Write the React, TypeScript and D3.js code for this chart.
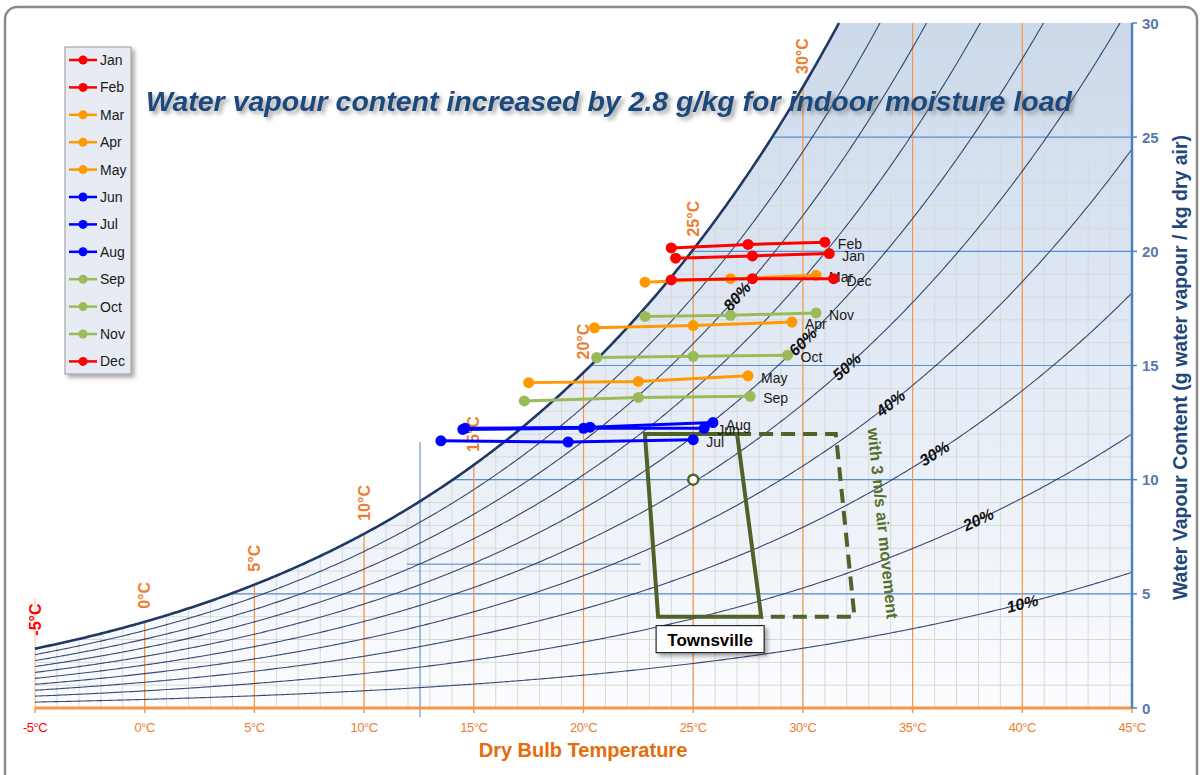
import React from 'react';
import * as d3 from 'd3';

const W = 1203;
const H = 775;

// ---------- data ----------
const months = ['Jan', 'Feb', 'Mar', 'Apr', 'May', 'Jun', 'Jul', 'Aug', 'Sep', 'Oct', 'Nov', 'Dec'];
const monthColors = ['#ff0000', '#ff0000', '#ff9900', '#ff9900', '#ff9900', '#0000ff', '#0000ff', '#0000ff', '#9bbb59', '#9bbb59', '#9bbb59', '#ff0000'];
// dry bulb temperatures (°C): low, mean, high
const monthTemps = [
  [24.2, 27.7, 31.2],
  [24.0, 27.5, 31.0],
  [22.8, 26.7, 30.6],
  [20.5, 25.0, 29.5],
  [17.5, 22.5, 27.5],
  [14.5, 20.0, 25.5],
  [13.5, 19.3, 25.0],
  [14.6, 20.3, 25.9],
  [17.3, 22.5, 27.6],
  [20.6, 25.0, 29.3],
  [22.8, 26.7, 30.6],
  [24.0, 27.7, 31.4],
];
// water vapour content (g/kg) at those points
const monthMoisture = [
  [19.7, 19.8, 19.9],
  [20.15, 20.3, 20.4],
  [18.65, 18.8, 18.95],
  [16.65, 16.75, 16.9],
  [14.25, 14.3, 14.55],
  [12.2, 12.25, 12.25],
  [11.7, 11.65, 11.75],
  [12.25, 12.3, 12.5],
  [13.45, 13.6, 13.65],
  [15.35, 15.4, 15.45],
  [17.15, 17.2, 17.3],
  [18.75, 18.8, 18.8],
];

const xTicks = [-5, 0, 5, 10, 15, 20, 25, 30, 35, 40, 45];
const yTicks = [0, 5, 10, 15, 20, 25, 30];
const rhLevels = [0.1, 0.2, 0.3, 0.4, 0.5, 0.6, 0.7, 0.8, 0.9];
const rhLabelLevels = [0.1, 0.2, 0.3, 0.4, 0.5, 0.6, 0.8];
const rhLabelTemps = [40, 38, 36, 34, 32, 30, 27];

// comfort zone (T, w)
const zoneSolid = [[22.8, 12], [27.0, 12], [28.1, 4], [23.4, 4]];
const zoneDashed = [[27.0, 12], [31.5, 12], [32.35, 4], [28.1, 4]];
const zoneCentre = [25, 10];
// cursor cross-hair remnants (T, w)
const cursorV = [[12.55, 11.65], [12.55, -0.4]];
const cursorH = [[11.95, 6.3], [22.6, 6.3]];

const title = 'Water vapour content increased by 2.8 g/kg for indoor moisture load';

// ---------- psychrometrics ----------
const P = 101.325;
const pws = (T: number) => 0.61121 * Math.exp((18.678 - T / 234.5) * (T / (257.14 + T)));
const wAt = (T: number, rh: number) => {
  const p = rh * pws(T);
  return (621.98 * p) / (P - p);
};
const tSat = (w: number) => {
  let lo = -20, hi = 60;
  for (let i = 0; i < 60; i++) {
    const m = (lo + hi) / 2;
    if (wAt(m, 1) < w) lo = m; else hi = m;
  }
  return (lo + hi) / 2;
};

const x = d3.scaleLinear().domain([-5, 45]).range([35, 1132]);
const y = d3.scaleLinear().domain([0, 30]).range([708, 23]);

const tSteps = d3.range(-5, 45.001, 0.1);

export default function App() {
  const satTop = tSat(30);
  const areaPts: [number, number][] = [[x(-5), y(0)]];
  tSteps.forEach((T) => areaPts.push([x(T), y(Math.min(wAt(T, 1), 30))]));
  areaPts.push([x(45), y(0)]);
  const areaPath = 'M' + areaPts.map((p) => p.join(',')).join('L') + 'Z';

  const line = d3.line<[number, number]>().x((d) => x(d[0])).y((d) => y(d[1]));
  const satPts: [number, number][] = tSteps.filter((T) => T <= satTop).map((T) => [T, wAt(T, 1)]);
  satPts.push([satTop, 30]);

  const rhPath = (rh: number) => line(tSteps.map((T) => [T, wAt(T, rh)] as [number, number]));

  const gridT = d3.range(-5, 45.01, 1);
  const gridW = d3.range(0, 30.01, 1);

  const sans = 'Liberation Sans, Arial, sans-serif';

  return (
    <svg width={W} height={H} style={{ position: 'absolute', left: 0, top: 0 }} fontFamily={sans}>
      <defs>
        <linearGradient id="shade" x1="0" y1={y(30)} x2="0" y2={y(0)} gradientUnits="userSpaceOnUse">
          <stop offset="0" stopColor="#cbd9eb" />
          <stop offset="1" stopColor="#fbfcfe" />
        </linearGradient>
        <clipPath id="underSat">
          <path d={areaPath} />
        </clipPath>
        <clipPath id="plot">
          <rect x={x(-5)} y={y(30)} width={x(45) - x(-5)} height={y(0) - y(30)} />
        </clipPath>
        <filter id="titleShadow" x="-5%" y="-50%" width="110%" height="200%">
          <feDropShadow dx="3" dy="3" stdDeviation="2" floodColor="#555" floodOpacity="0.55" />
        </filter>
        <filter id="boxShadow" x="-20%" y="-20%" width="150%" height="150%">
          <feDropShadow dx="3" dy="3" stdDeviation="2" floodColor="#000" floodOpacity="0.35" />
        </filter>
      </defs>

      {/* frame */}
      <rect x={5} y={7} width={1192} height={800} rx={12} fill="#fff" stroke="#8a8a8a" strokeWidth={2.5} />

      {/* shaded area */}
      <path d={areaPath} fill="url(#shade)" />

      {/* grid */}
      <g clipPath="url(#underSat)" stroke="#d8d8d8" strokeWidth={1}>
        {gridT.map((T) => (
          <line key={'gt' + T} x1={x(T)} x2={x(T)} y1={y(0)} y2={y(30)} />
        ))}
        {gridW.map((w) => (
          <line key={'gw' + w} x1={x(-5)} x2={x(45)} y1={y(w)} y2={y(w)} />
        ))}
      </g>

      {/* blue horizontal lines */}
      {[5, 10, 15, 20, 25].map((w) => (
        <line key={'bh' + w} x1={x(tSat(w))} x2={x(45)} y1={y(w)} y2={y(w)} stroke="#5a8fd8" strokeWidth={1.2} />
      ))}

      {/* orange isotherms */}
      {xTicks.filter((T) => T > -5 && T < 45).map((T) => (
        <line key={'ot' + T} x1={x(T)} x2={x(T)} y1={y(0)} y2={y(Math.min(wAt(T, 1), 30))} stroke="#f79646" strokeWidth={1.2} />
      ))}
      <line x1={x(-5)} x2={x(-5)} y1={y(0)} y2={y(wAt(-5, 1)) - 50} stroke="#f9b98a" strokeWidth={1} />

      {/* cursor cross hair */}
      <path d={line(cursorV as [number, number][]) || ''} stroke="#4f81bd" strokeWidth={1} fill="none" />
      <path d={line(cursorH as [number, number][]) || ''} stroke="#4f81bd" strokeWidth={1} fill="none" />

      {/* RH lines */}
      <g clipPath="url(#plot)" fill="none" stroke="#1f3864" strokeWidth={1.1} strokeOpacity={0.9}>
        {rhLevels.map((rh) => (
          <path key={'rh' + rh} d={rhPath(rh) || ''} />
        ))}
      </g>
      {/* saturation curve */}
      <path d={line(satPts) || ''} fill="none" stroke="#1f3864" strokeWidth={2.6} />

      {/* isotherm labels */}
      {xTicks.filter((T) => T <= 30).map((T) => {
        const px = x(T);
        const py = y(wAt(T, 1)) - 13;
        return (
          <text key={'il' + T} transform={`translate(${px},${py}) rotate(-90)`} dominantBaseline="central"
            fontSize={16} fontWeight="bold" fill={T === -5 ? '#ff0000' : '#ed7d31'}>
            {T}°C
          </text>
        );
      })}

      {/* RH labels */}
      {rhLabelLevels.map((rh, i) => {
        const T = rhLabelTemps[i];
        const px = x(T);
        const py = y(wAt(T, rh));
        const dx = x(T + 0.5) - x(T - 0.5);
        const dy = y(wAt(T + 0.5, rh)) - y(wAt(T - 0.5, rh));
        const ang = (Math.atan2(dy, dx) * 180) / Math.PI;
        return (
          <text key={'rl' + rh} transform={`translate(${px},${py}) rotate(${ang})`} textAnchor="middle" dominantBaseline="central"
            fontSize={16} fontWeight="bold" fontStyle="italic" fill="#111">
            {Math.round(rh * 100)}%
          </text>
        );
      })}

      {/* comfort zone */}
      <path d={line(zoneDashed as [number, number][]) || ''} fill="none" stroke="#4f6228" strokeWidth={4} strokeDasharray="14 8" />
      <path d={(line(zoneSolid as [number, number][]) || '') + 'Z'} fill="none" stroke="#4f6228" strokeWidth={4} strokeLinejoin="miter" />
      <circle cx={x(zoneCentre[0])} cy={y(zoneCentre[1])} r={5} fill="#fff" stroke="#4f6228" strokeWidth={2.5} />
      {(() => {
        const a = zoneDashed[1], b = zoneDashed[2];
        const x1 = x(a[0]), y1 = y(a[1]), x2 = x(b[0]), y2 = y(b[1]);
        const ang = (Math.atan2(y2 - y1, x2 - x1) * 180) / Math.PI;
        const cx = (x1 + x2) / 2 + 38, cy = (y1 + y2) / 2 - 2;
        return (
          <text transform={`translate(${cx},${cy}) rotate(${ang})`} textAnchor="middle" dominantBaseline="central"
            fontSize={16.5} fontWeight="bold" fill="#56702c">
            with 3 m/s air movement
          </text>
        );
      })()}
      {(() => {
        const bx = x(zoneSolid[3][0]) - 2;
        const by = y(zoneSolid[3][1]) + 9;
        return (
          <g>
            <rect x={bx} y={by} width={108} height={27} fill="#fff" stroke="#000" strokeWidth={1} filter="url(#boxShadow)" />
            <text x={bx + 54} y={by + 20} textAnchor="middle" fontSize={17} fontWeight="bold" fill="#000">Townsville</text>
          </g>
        );
      })()}

      {/* month series */}
      {months.map((m, i) => {
        const pts = monthTemps[i].map((T, j) => [T, monthMoisture[i][j]] as [number, number]);
        const last = pts[pts.length - 1];
        return (
          <g key={'m' + m}>
            <path d={line(pts) || ''} fill="none" stroke={monthColors[i]} strokeWidth={3} />
            {pts.map((p, j) => (
              <circle key={j} cx={x(p[0])} cy={y(p[1])} r={5.5} fill={monthColors[i]} />
            ))}
            <text x={x(last[0]) + 13} y={y(last[1]) + 2} dominantBaseline="central" fontSize={14} fill="#1a1a1a">{m}</text>
          </g>
        );
      })}

      {/* bottom axis */}
      <line x1={x(-5)} x2={x(45)} y1={y(0)} y2={y(0)} stroke="#f79646" strokeWidth={3} />
      {xTicks.map((T) => (
        <g key={'xt' + T}>
          <line x1={x(T)} x2={x(T)} y1={y(0)} y2={y(0) + 5} stroke="#f79646" strokeWidth={1.5} />
          <text x={x(T)} y={y(0) + 19} textAnchor="middle" dominantBaseline="central" fontSize={13}
            fill={T === -5 ? '#ff0000' : '#ed7d31'} letterSpacing={-0.5}>
            {T}°C
          </text>
        </g>
      ))}
      <text x={583} y={750} textAnchor="middle" dominantBaseline="central" fontSize={20} fontWeight="bold" fill="#e46c0a">Dry Bulb Temperature</text>

      {/* right axis */}
      <line x1={x(45)} x2={x(45)} y1={y(0)} y2={y(30)} stroke="#4f81bd" strokeWidth={2.5} />
      {yTicks.map((w) => (
        <g key={'yt' + w}>
          <line x1={x(45)} x2={x(45) + 5} y1={y(w)} y2={y(w)} stroke="#4f81bd" strokeWidth={1.5} />
          <text x={x(45) + 10} y={y(w)} dominantBaseline="central" fontSize={15} fontWeight="bold" fill="#5a78ad">{w}</text>
        </g>
      ))}
      <text transform={`translate(1180,${(y(0) + y(30)) / 2 + 2}) rotate(-90)`} textAnchor="middle" dominantBaseline="central"
        fontSize={19.5} fontWeight="bold" fill="#1f497d">
        Water Vapour Content (g water vapour / kg dry air)
      </text>

      {/* title */}
      <text x={609} y={101} textAnchor="middle" dominantBaseline="central" fontSize={28.5} fontWeight="bold" fontStyle="italic"
        fill="#1f497d" filter="url(#titleShadow)">
        {title}
      </text>

      {/* legend */}
      <g>
        <rect x={65} y={47} width={66} height={327} fill="#e6ebf4" stroke="#9a9a9a" strokeWidth={1} filter="url(#boxShadow)" />
        {months.map((m, i) => {
          const ly = 60 + i * 27.4;
          return (
            <g key={'lg' + m}>
              <line x1={69} x2={97} y1={ly} y2={ly} stroke={monthColors[i]} strokeWidth={2.5} />
              <circle cx={83} cy={ly} r={4.5} fill={monthColors[i]} />
              <text x={100} y={ly} dominantBaseline="central" fontSize={14} fill="#1a1a1a">{m}</text>
            </g>
          );
        })}
      </g>
    </svg>
  );
}
